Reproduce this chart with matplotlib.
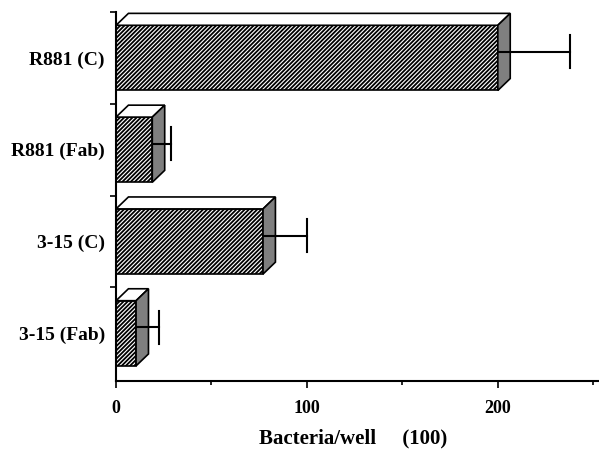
import matplotlib
matplotlib.use("Agg")
import matplotlib.pyplot as plt
import numpy as np

labels = ['R881 (C)', 'R881 (Fab)', '3-15 (C)', '3-15 (Fab)']
values = [200, 19, 77, 10.5]
errors = [38, 10, 23, 12]

plt.rcParams['font.family'] = ['Liberation Serif', 'DejaVu Serif']
plt.rcParams['font.weight'] = 'bold'
plt.rcParams['hatch.linewidth'] = 1.3

fig = plt.figure(figsize=(5.99, 4.49), dpi=100)
ax = fig.add_axes([0.1937, 0.1514, 0.8063, 0.8219])

ypos = np.arange(len(labels))
h = 0.71       # front face height
dx = 6.5       # depth, x units
dy = 0.13      # depth, y units

ax.barh(ypos, values, height=h, color='white', edgecolor='black',
        hatch='////////', linewidth=1.2, zorder=2)

for y, v, e in zip(ypos, values, errors):
    top = y - h / 2
    bot = y + h / 2
    # top face
    ax.fill([0, v, v + dx, dx], [top, top, top - dy, top - dy],
            facecolor='white', edgecolor='black', linewidth=1.2, zorder=2)
    # side face
    ax.fill([v, v + dx, v + dx, v], [top, top - dy, bot - dy, bot],
            facecolor='#7f7f7f', edgecolor='black', linewidth=1.2, zorder=2)
    # error bar
    ye = y - dy / 2
    ax.plot([v, v + e], [ye, ye], color='black', lw=1.5, zorder=3)
    ax.plot([v + e, v + e], [ye - 0.18, ye + 0.18], color='black', lw=1.5, zorder=3)

ax.set_xlim(0, 253)
ax.set_ylim(3.52, -0.5)

ax.spines['top'].set_visible(False)
ax.spines['right'].set_visible(False)
ax.spines['left'].set_linewidth(1.5)
ax.spines['bottom'].set_linewidth(1.5)

ax.set_yticks(ypos)
ax.set_yticklabels(labels, fontsize=14, fontweight='bold')
ax.set_yticks([-0.5, 0.5, 1.5, 2.5], minor=True)
ax.tick_params(axis='y', which='major', length=0, pad=8)
ax.tick_params(axis='y', which='minor', length=4, width=1.2)

ax.set_xticks([0, 100, 200])
ax.set_xticklabels(['0', '100', '200'], fontsize=13, fontweight='bold')
ax.set_xticks([50, 150, 250], minor=True)
ax.tick_params(axis='x', which='major', length=5, width=1.2, pad=9)
ax.tick_params(axis='x', which='minor', length=3, width=1.2)

fig.text(353 / 599, 1 - 438 / 449, 'Bacteria/well     (100)', fontsize=15,
         fontweight='bold', ha='center', va='center')

fig.savefig('out.png', dpi=100)
